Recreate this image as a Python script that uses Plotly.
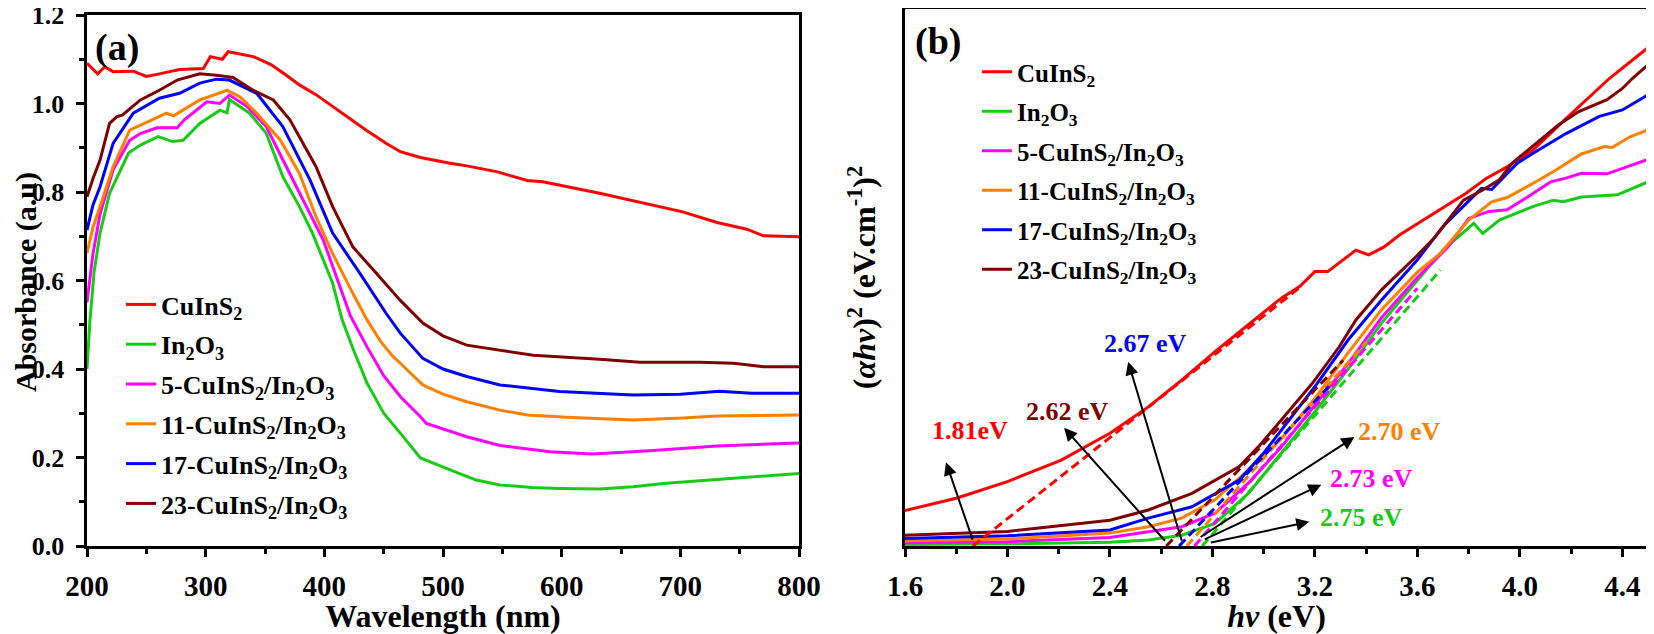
import plotly.graph_objects as go

# the page body adds an 8px margin, so the figure is drawn 8px in from the corner
OFF = 8
FW, FH = 1654 - OFF, 634 - OFF
FONT = "Liberation Serif"

# plot-area margins (figure pixels)
ML, MR, MT, MB = 79, 6, 1, 88
PW, PH = FW - ML - MR, FH - MT - MB


def fx(p):
    return (p - OFF - ML) / PW


def fy(p):
    return 1 - (p - OFF - MT) / PH


names = [
    "CuInS<sub>2</sub>",
    "In<sub>2</sub>O<sub>3</sub>",
    "5-CuInS<sub>2</sub>/In<sub>2</sub>O<sub>3</sub>",
    "11-CuInS<sub>2</sub>/In<sub>2</sub>O<sub>3</sub>",
    "17-CuInS<sub>2</sub>/In<sub>2</sub>O<sub>3</sub>",
    "23-CuInS<sub>2</sub>/In<sub>2</sub>O<sub>3</sub>",
]
colors = ["#FF0000", "#17CC17", "#FF00FF", "#FF8000", "#0000FF", "#800000"]

# ---- panel (a): absorbance vs wavelength ----
wl_cuins2 = [200, 209, 215, 222, 239, 250, 261, 278, 298, 304, 314, 319, 340, 355, 368, 379, 393, 407,
             435, 452, 464, 481, 492, 506, 520, 545, 571, 584, 632, 660, 702, 731, 756, 770, 800]
ab_cuins2 = [1.091, 1.067, 1.083, 1.072, 1.073, 1.061, 1.067, 1.077, 1.079, 1.106, 1.100, 1.117, 1.106,
             1.088, 1.064, 1.042, 1.020, 0.993, 0.940, 0.910, 0.891, 0.878, 0.872, 0.865, 0.859, 0.846,
             0.826, 0.823, 0.797, 0.780, 0.755, 0.731, 0.716, 0.701, 0.699]

wl_in2o3 = [200, 202.5, 206, 211, 219, 235, 245, 260, 272, 281, 295, 312, 318, 320, 337, 351, 365, 379,
            390, 407, 415, 425, 436, 450, 464, 481, 506, 528, 548, 575, 598, 632, 660, 688, 745, 800]
ab_in2o3 = [0.400, 0.510, 0.620, 0.707, 0.797, 0.888, 0.906, 0.925, 0.914, 0.917, 0.955, 0.985, 0.979,
            1.009, 0.978, 0.933, 0.835, 0.767, 0.707, 0.594, 0.511, 0.440, 0.368, 0.300, 0.255, 0.199,
            0.172, 0.149, 0.138, 0.132, 0.130, 0.129, 0.134, 0.142, 0.153, 0.164]

wl_5 = [200, 205, 211, 222, 236, 245, 259, 276, 282, 301, 312, 320, 335, 351, 368, 382, 399, 422, 436,
        450, 464, 481, 486, 520, 548, 590, 626, 674, 731, 800]
ab_5 = [0.550, 0.660, 0.750, 0.850, 0.917, 0.932, 0.945, 0.945, 0.963, 1.004, 1.000, 1.019, 0.993, 0.948,
        0.857, 0.782, 0.692, 0.520, 0.450, 0.385, 0.338, 0.292, 0.277, 0.247, 0.227, 0.213, 0.208, 0.215,
        0.226, 0.233]

wl_11 = [200, 205, 211, 222, 236, 248, 267, 273, 295, 309, 318, 329, 343, 363, 379, 393, 407, 424, 436,
         448, 458, 464, 483, 500, 520, 548, 571, 604, 660, 702, 731, 800]
ab_11 = [0.662, 0.720, 0.767, 0.857, 0.940, 0.955, 0.978, 0.972, 1.008, 1.021, 1.030, 1.015, 0.978, 0.917,
         0.842, 0.744, 0.661, 0.571, 0.511, 0.460, 0.428, 0.413, 0.364, 0.343, 0.326, 0.307, 0.296, 0.291,
         0.285, 0.289, 0.294, 0.296]

wl_17 = [200, 205, 211, 222, 239, 261, 278, 295, 309, 320, 343, 365, 388, 407, 430, 452, 464, 483, 500,
         520, 548, 598, 660, 700, 733, 760, 800]
ab_17 = [0.714, 0.770, 0.812, 0.910, 0.978, 1.012, 1.023, 1.046, 1.055, 1.053, 1.023, 0.948, 0.827, 0.707,
         0.616, 0.526, 0.481, 0.424, 0.400, 0.383, 0.364, 0.349, 0.341, 0.343, 0.350, 0.345, 0.345]

wl_23 = [200, 205, 211, 219, 225, 230, 245, 261, 276, 295, 309, 323, 340, 357, 371, 393, 407, 424, 444,
         464, 483, 500, 520, 548, 576, 632, 666, 716, 745, 770, 800]
ab_23 = [0.789, 0.830, 0.872, 0.955, 0.970, 0.974, 1.008, 1.030, 1.053, 1.067, 1.064, 1.059, 1.030, 1.008,
         0.963, 0.857, 0.767, 0.676, 0.616, 0.555, 0.504, 0.475, 0.454, 0.443, 0.431, 0.422, 0.415, 0.415,
         0.413, 0.405, 0.405]

wl_series = [wl_cuins2, wl_in2o3, wl_5, wl_11, wl_17, wl_23]
ab_series = [ab_cuins2, ab_in2o3, ab_5, ab_11, ab_17, ab_23]

a_xticks = [200, 300, 400, 500, 600, 700, 800]
a_yticks = [0.0, 0.2, 0.4, 0.6, 0.8, 1.0, 1.2]
# a trailing no-break space keeps the labels clear of the ticks, as in the original
a_yticklabels = ["0.0\u00a0", "0.2\u00a0", "0.4\u00a0", "0.6\u00a0", "0.8\u00a0", "1.0\u00a0", "1.2\u00a0"]

# ---- panel (b): Tauc plot ----
ev_cuins2 = [1.6, 1.8, 2.0, 2.21, 2.40, 2.55, 2.68, 2.81, 2.94, 3.07, 3.14, 3.20, 3.25, 3.36, 3.41, 3.47,
             3.53, 3.66, 3.79, 3.87, 3.95, 4.05, 4.18, 4.35, 4.5]
tc_cuins2 = [0.066, 0.089, 0.120, 0.160, 0.210, 0.259, 0.309, 0.362, 0.412, 0.462, 0.483, 0.511, 0.511,
             0.551, 0.542, 0.557, 0.579, 0.618, 0.657, 0.685, 0.706, 0.737, 0.796, 0.871, 0.928]

ev_in2o3 = [1.6, 2.0, 2.4, 2.55, 2.68, 2.81, 2.94, 3.07, 3.20, 3.33, 3.46, 3.60, 3.70, 3.82, 3.855, 3.92,
            4.05, 4.13, 4.17, 4.24, 4.38, 4.5]
tc_in2o3 = [0.003, 0.004, 0.007, 0.011, 0.020, 0.042, 0.098, 0.173, 0.250, 0.330, 0.415, 0.495, 0.551,
            0.601, 0.582, 0.607, 0.632, 0.644, 0.641, 0.650, 0.654, 0.678]

ev_5 = [1.6, 2.0, 2.4, 2.55, 2.68, 2.81, 2.94, 3.07, 3.20, 3.33, 3.46, 3.60, 3.72, 3.80, 3.88, 3.95, 4.03,
        4.12, 4.18, 4.24, 4.34, 4.40, 4.5]
tc_5 = [0.006, 0.008, 0.016, 0.027, 0.036, 0.061, 0.117, 0.185, 0.262, 0.340, 0.425, 0.500, 0.557, 0.610,
        0.623, 0.626, 0.650, 0.678, 0.685, 0.694, 0.693, 0.703, 0.720]

ev_11 = [1.6, 2.0, 2.4, 2.55, 2.68, 2.81, 2.94, 3.07, 3.20, 3.33, 3.46, 3.53, 3.60, 3.69, 3.80, 3.89, 3.95,
         4.05, 4.13, 4.24, 4.33, 4.36, 4.43, 4.5]
tc_11 = [0.010, 0.013, 0.024, 0.036, 0.052, 0.086, 0.142, 0.200, 0.275, 0.360, 0.440, 0.475, 0.510, 0.545,
         0.607, 0.641, 0.649, 0.675, 0.697, 0.730, 0.744, 0.742, 0.762, 0.775]

ev_17 = [1.6, 2.0, 2.4, 2.55, 2.72, 2.905, 3.0, 3.10, 3.20, 3.33, 3.46, 3.60, 3.70, 3.85, 3.89, 3.99, 4.05,
         4.18, 4.31, 4.40, 4.5]
tc_17 = [0.014, 0.019, 0.030, 0.052, 0.073, 0.123, 0.173, 0.235, 0.297, 0.384, 0.458, 0.533, 0.595, 0.666,
         0.664, 0.713, 0.731, 0.768, 0.800, 0.812, 0.840]

ev_23 = [1.6, 2.0, 2.4, 2.55, 2.72, 2.905, 2.98, 3.10, 3.19, 3.295, 3.36, 3.46, 3.595, 3.67, 3.78, 3.855,
         3.92, 3.97, 4.05, 4.15, 4.23, 4.34, 4.40, 4.44, 4.5]
tc_23 = [0.020, 0.027, 0.048, 0.067, 0.098, 0.148, 0.185, 0.253, 0.303, 0.371, 0.421, 0.477, 0.539, 0.576,
         0.644, 0.663, 0.682, 0.713, 0.744, 0.784, 0.809, 0.831, 0.852, 0.871, 0.896]

ev_series = [ev_cuins2, ev_in2o3, ev_5, ev_11, ev_17, ev_23]
tc_series = [tc_cuins2, tc_in2o3, tc_5, tc_11, tc_17, tc_23]

b_xticks = [1.6, 2.0, 2.4, 2.8, 3.2, 3.6, 4.0, 4.4]
b_xticklabels = ["1.6", "2.0", "2.4", "2.8", "3.2", "3.6", "4.0", "4.4"]

# tangent (band-gap extrapolation) lines: x-intercept -> upper end
tan_x0 = [1.865, 2.76, 2.73, 2.70, 2.67, 2.62]
tan_x1 = [3.15, 3.69, 3.60, 3.40, 3.26, 3.31]
tan_y1 = [0.485, 0.514, 0.48, 0.38, 0.30, 0.346]

# band-gap labels and their arrows (head / tail in data units of panel b)
gap_text = ["1.81eV", "2.75 eV", "2.73 eV", "2.70 eV", "2.67 eV", "2.62 eV"]
gap_tx = [1.854, 3.381, 3.42, 3.53, 2.5375, 2.233]
gap_ty = [0.216, 0.054, 0.125, 0.214, 0.378, 0.250]
arr_hx = [1.760, 3.178, 3.225, 3.354, 2.471, 2.221]
arr_hy = [0.156, 0.045, 0.114, 0.203, 0.343, 0.220]
arr_tx = [1.866, 2.788, 2.764, 2.748, 2.682, 2.620]
arr_ty = [0.009, 0.006, 0.011, 0.015, 0.007, 0.007]

fig = go.Figure()

for i, (name, col) in enumerate(zip(names, colors)):
    fig.add_trace(go.Scatter(
        x=wl_series[i], y=ab_series[i], mode="lines", name=name,
        line=dict(color=col, width=3), legend="legend", legendgroup=f"a{i}",
        xaxis="x", yaxis="y",
    ))

for i, (name, col) in enumerate(zip(names, colors)):
    fig.add_trace(go.Scatter(
        x=ev_series[i], y=tc_series[i], mode="lines", name=name,
        line=dict(color=col, width=3), legend="legend2", legendgroup=f"b{i}",
        xaxis="x2", yaxis="y2",
    ))

for i, col in enumerate(colors):
    fig.add_trace(go.Scatter(
        x=[tan_x0[i], tan_x1[i]], y=[0, tan_y1[i]], mode="lines",
        line=dict(color=col, width=3, dash="9px,5px"), showlegend=False,
        xaxis="x2", yaxis="y2",
    ))

annotations = []
for i, txt in enumerate(gap_text):
    annotations.append(dict(
        x=arr_hx[i], y=arr_hy[i], ax=arr_tx[i], ay=arr_ty[i],
        xref="x2", yref="y2", axref="x2", ayref="y2", text="",
        showarrow=True, arrowhead=2, arrowsize=1.3, arrowwidth=2, arrowcolor="black",
    ))
    annotations.append(dict(
        x=gap_tx[i], y=gap_ty[i], xref="x2", yref="y2", text=txt, showarrow=False,
        xanchor="center", yanchor="middle",
        font=dict(size=26, color=colors[i], family=FONT, weight="bold"),
    ))

for label, px, py in [("(a)", 117, 47), ("(b)", 938, 42)]:
    annotations.append(dict(x=fx(px), y=fy(py), xref="paper", yref="paper", text=label,
                            xanchor="center", yanchor="middle", showarrow=False,
                            font=dict(size=38, family=FONT, weight="bold", color="black")))

# y title of panel (a), placed by hand at the far left like the original
annotations.append(dict(x=fx(26), y=fy(282), xref="paper", yref="paper", text="Absorbance (a.u)",
                        textangle=-90, xanchor="center", yanchor="middle", showarrow=False,
                        font=dict(size=30, family=FONT, weight="bold", color="black")))

axis_common = dict(
    showline=True, linecolor="black", linewidth=3, mirror=True, showgrid=False, zeroline=False,
    ticks="outside", ticklen=8, tickwidth=3, tickcolor="black", automargin=False,
    ticklabeloverflow="allow",
    tickfont=dict(size=29, family=FONT, weight="bold", color="black"),
)
minor_common = dict(ticks="outside", ticklen=5, tickwidth=3, tickcolor="black")

fig.update_layout(
    width=FW, height=FH,
    margin=dict(l=ML, r=MR, t=MT, b=MB, autoexpand=False),
    paper_bgcolor="white", plot_bgcolor="white",
    font=dict(family=FONT, weight="bold", color="black"),
    xaxis=dict(axis_common, domain=[fx(87), fx(799)], range=[200, 800],
               tickvals=a_xticks, minor=dict(minor_common, dtick=50), ticklabelstandoff=4,
               title=dict(text="Wavelength (nm)", font=dict(size=32, family=FONT, weight="bold"), standoff=14),
               anchor="y"),
    yaxis=dict(axis_common, domain=[fy(546), fy(15)], range=[0, 1.2],
               tickvals=a_yticks, ticktext=a_yticklabels, minor=dict(minor_common, dtick=0.1),
               tickfont=dict(size=26, family=FONT, weight="bold", color="black"),
               anchor="x"),
    xaxis2=dict(axis_common, domain=[fx(905), fx(1648)], range=[1.6, 4.5],
                tickvals=b_xticks, ticktext=b_xticklabels, minor=dict(minor_common, dtick=0.2, tick0=1.6),
                ticklabelstandoff=4,
                title=dict(text="<i>hv</i> (eV)", font=dict(size=32, family=FONT, weight="bold"), standoff=14),
                anchor="y2"),
    yaxis2=dict(axis_common, domain=[fy(546), fy(9)], range=[0, 1], ticks="", showticklabels=False,
                title=dict(text="(<i>αhv</i>)<sup>2</sup> (eV.cm<sup>-1</sup>)<sup>2</sup>",
                           font=dict(size=32, family=FONT, weight="bold"), standoff=17),
                anchor="x2"),
    legend=dict(x=fx(121), y=fy(281), xanchor="left", yanchor="top", bgcolor="rgba(0,0,0,0)",
                font=dict(size=26, family=FONT, weight="bold", color="black"), tracegroupgap=3),
    legend2=dict(x=fx(977), y=fy(49), xanchor="left", yanchor="top", bgcolor="rgba(0,0,0,0)",
                 font=dict(size=25, family=FONT, weight="bold", color="black"), tracegroupgap=4),
    annotations=annotations,
    showlegend=True,
)

fig.write_html("out.html")
